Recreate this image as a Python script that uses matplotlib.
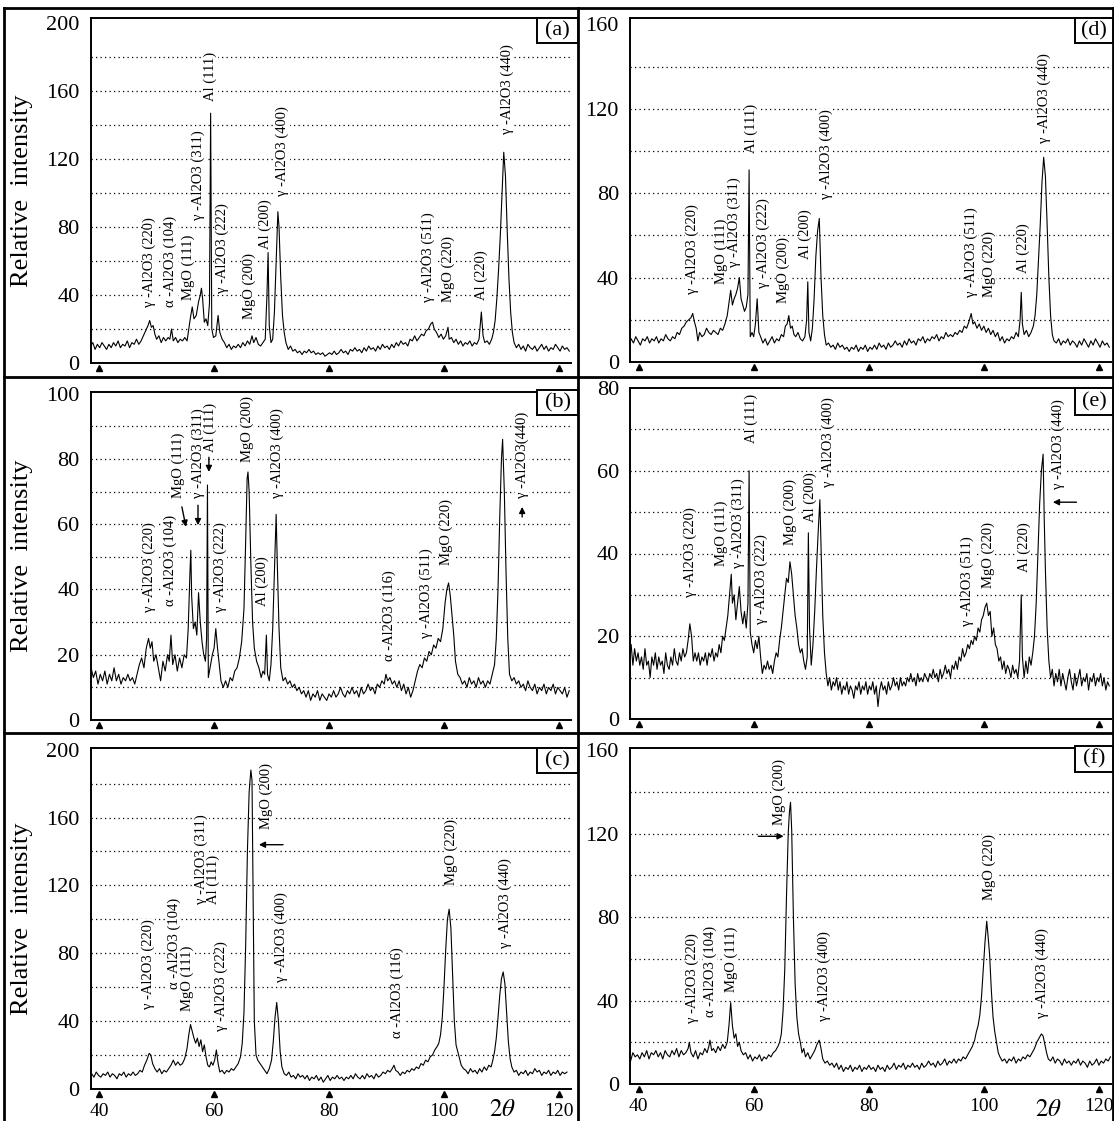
import matplotlib.pyplot as plt
from matplotlib.lines import Line2D
from matplotlib.patches import Rectangle

plt.rcParams['font.family'] = ['Liberation Serif', 'DejaVu Serif']
plt.rcParams['mathtext.fontset'] = 'stix'

# ---------------------------------------------------------------
# XRD patterns: (2theta, relative intensity)
# ---------------------------------------------------------------
pattern_a = [
    (38.5, 10), (38.9, 12), (39.3, 8), (39.7, 11), (40.1, 9), (40.5, 12), (40.9, 10), (41.3, 8), (41.7, 11),
    (42.1, 9), (42.5, 12), (42.9, 10), (43.3, 13), (43.7, 9), (44.1, 11), (44.5, 10), (44.9, 13), (45.3, 9),
    (45.7, 12), (46.1, 11), (46.5, 14), (46.9, 11), (47.3, 13), (47.7, 16), (48.1, 19), (48.5, 22), (48.8, 25),
    (49.1, 21), (49.4, 22), (49.7, 17), (50.0, 14), (50.4, 16), (50.8, 12), (51.2, 15), (51.6, 13), (52.0, 15),
    (52.3, 14), (52.6, 20), (52.9, 13), (53.3, 15), (53.7, 12), (54.1, 14), (54.5, 13), (54.9, 15), (55.3, 13),
    (55.6, 20), (55.9, 27), (56.2, 33), (56.5, 26), (56.9, 28), (57.3, 36), (57.6, 40), (57.8, 44), (58.0, 38),
    (58.3, 24), (58.6, 26), (58.9, 22), (59.2, 35), (59.4, 147), (59.6, 20), (59.9, 15), (60.3, 16), (60.7, 28),
    (61.0, 18), (61.4, 14), (61.8, 12), (62.2, 9), (62.6, 11), (63.0, 8), (63.4, 10), (63.8, 9), (64.2, 11),
    (64.6, 9), (65.0, 12), (65.4, 10), (65.8, 13), (66.2, 11), (66.6, 16), (66.9, 12), (67.3, 15), (67.7, 11),
    (68.1, 10), (68.5, 12), (68.9, 14), (69.2, 40), (69.4, 65), (69.6, 22), (69.9, 12), (70.2, 14), (70.5, 30),
    (70.8, 60), (71.1, 89), (71.3, 80), (71.6, 50), (71.9, 28), (72.2, 18), (72.5, 12), (72.9, 8), (73.3, 10),
    (73.7, 7), (74.1, 8), (74.5, 6), (74.9, 7), (75.3, 5), (75.7, 7), (76.1, 6), (76.5, 8), (76.9, 6), (77.3, 7),
    (77.7, 5), (78.1, 6), (78.5, 5), (78.9, 6), (79.3, 4), (79.7, 5), (80.1, 6), (80.5, 5), (80.9, 7), (81.3, 5),
    (81.7, 6), (82.1, 8), (82.5, 6), (82.9, 7), (83.3, 5), (83.7, 8), (84.1, 7), (84.5, 9), (84.9, 7), (85.3, 8),
    (85.7, 6), (86.1, 9), (86.5, 7), (86.9, 10), (87.3, 8), (87.7, 9), (88.1, 7), (88.5, 10), (88.9, 8),
    (89.3, 11), (89.7, 9), (90.1, 10), (90.5, 8), (90.9, 11), (91.3, 9), (91.7, 12), (92.1, 10), (92.5, 13),
    (92.9, 11), (93.3, 12), (93.7, 10), (94.1, 14), (94.5, 13), (94.9, 16), (95.3, 13), (95.7, 15), (96.1, 17),
    (96.5, 16), (96.9, 19), (97.3, 20), (97.7, 23), (98.0, 24), (98.3, 20), (98.7, 18), (99.1, 15), (99.5, 17),
    (99.9, 14), (100.3, 16), (100.7, 21), (100.9, 14), (101.3, 15), (101.7, 12), (102.1, 14), (102.5, 11),
    (102.9, 13), (103.3, 10), (103.7, 12), (104.1, 11), (104.5, 13), (104.9, 10), (105.3, 12), (105.7, 11),
    (106.1, 14), (106.5, 30), (106.8, 16), (107.1, 12), (107.5, 13), (107.9, 11), (108.3, 14), (108.6, 18),
    (108.9, 25), (109.2, 38), (109.5, 55), (109.8, 75), (110.1, 100), (110.4, 124), (110.7, 110), (111.0, 78),
    (111.3, 50), (111.6, 30), (111.9, 18), (112.2, 12), (112.6, 9), (113.0, 11), (113.4, 8), (113.8, 10),
    (114.2, 7), (114.6, 11), (115.0, 9), (115.4, 8), (115.8, 10), (116.2, 7), (116.6, 9), (117.0, 11),
    (117.4, 8), (117.8, 10), (118.2, 7), (118.6, 9), (119.0, 8), (119.4, 11), (119.8, 9), (120.2, 7),
    (120.6, 10), (121.0, 8), (121.4, 9), (121.8, 7),
]

pattern_b = [
    (38.6, 16), (39.0, 13), (39.4, 15), (39.8, 11), (40.2, 14), (40.6, 12), (41.0, 15), (41.4, 11), (41.8, 14),
    (42.2, 12), (42.6, 16), (43.0, 12), (43.4, 14), (43.8, 11), (44.2, 13), (44.6, 12), (45.0, 14), (45.4, 12),
    (45.8, 13), (46.2, 11), (46.6, 14), (47.0, 17), (47.4, 19), (47.8, 16), (48.2, 22), (48.6, 25), (48.9, 22),
    (49.2, 24), (49.5, 18), (49.9, 20), (50.3, 16), (50.7, 12), (51.1, 18), (51.5, 15), (51.9, 20), (52.2, 18),
    (52.5, 26), (52.8, 17), (53.2, 20), (53.6, 15), (54.0, 19), (54.4, 16), (54.8, 20), (55.2, 19), (55.5, 28),
    (55.8, 45), (55.95, 52), (56.1, 38), (56.4, 28), (56.7, 30), (57.0, 26), (57.3, 39), (57.6, 30), (57.9, 24),
    (58.2, 20), (58.5, 18), (58.7, 25), (58.85, 72), (59.0, 13), (59.3, 16), (59.7, 20), (60.0, 22), (60.3, 28),
    (60.6, 22), (60.9, 17), (61.2, 12), (61.6, 10), (62.0, 12), (62.4, 10), (62.8, 13), (63.2, 12), (63.6, 15),
    (64.0, 16), (64.4, 19), (64.8, 24), (65.2, 34), (65.5, 55), (65.75, 74), (65.9, 76), (66.1, 70), (66.4, 48),
    (66.7, 30), (67.0, 22), (67.4, 18), (67.8, 16), (68.2, 13), (68.5, 15), (68.8, 14), (69.1, 26), (69.3, 14),
    (69.6, 12), (69.9, 17), (70.2, 28), (70.5, 45), (70.8, 63), (71.0, 48), (71.3, 28), (71.6, 16), (72.0, 12),
    (72.4, 13), (72.8, 11), (73.2, 12), (73.6, 10), (74.0, 11), (74.4, 9), (74.8, 10), (75.2, 8), (75.6, 9),
    (76.0, 7), (76.4, 9), (76.8, 6), (77.2, 8), (77.6, 7), (78.0, 9), (78.4, 6), (78.8, 8), (79.2, 7), (79.6, 6),
    (80.0, 8), (80.4, 7), (80.8, 9), (81.2, 7), (81.6, 8), (82.0, 10), (82.4, 8), (82.8, 7), (83.2, 9), (83.6, 8),
    (84.0, 10), (84.4, 8), (84.8, 9), (85.2, 7), (85.6, 10), (86.0, 8), (86.4, 9), (86.8, 11), (87.2, 9),
    (87.6, 10), (88.0, 8), (88.4, 11), (88.8, 10), (89.2, 12), (89.6, 11), (89.9, 14), (90.2, 12), (90.6, 13),
    (91.0, 11), (91.4, 12), (91.8, 10), (92.2, 12), (92.6, 9), (93.0, 11), (93.4, 8), (93.8, 10), (94.2, 7),
    (94.6, 9), (95.0, 12), (95.4, 15), (95.8, 17), (96.2, 16), (96.6, 19), (97.0, 18), (97.4, 21), (97.8, 20),
    (98.2, 23), (98.6, 22), (99.0, 25), (99.4, 24), (99.8, 28), (100.2, 36), (100.5, 40), (100.8, 42),
    (101.1, 38), (101.4, 32), (101.7, 26), (102.0, 18), (102.4, 14), (102.8, 13), (103.2, 11), (103.6, 12),
    (104.0, 10), (104.4, 13), (104.8, 11), (105.2, 12), (105.6, 10), (106.0, 13), (106.4, 11), (106.8, 12),
    (107.2, 10), (107.6, 12), (108.0, 11), (108.4, 14), (108.8, 17), (109.1, 25), (109.4, 40), (109.7, 62),
    (110.0, 80), (110.2, 86), (110.5, 70), (110.8, 45), (111.1, 25), (111.4, 14), (111.8, 12), (112.2, 13),
    (112.6, 11), (113.0, 12), (113.4, 10), (113.8, 11), (114.2, 9), (114.6, 12), (115.0, 10), (115.4, 9),
    (115.8, 11), (116.2, 8), (116.6, 10), (117.0, 9), (117.4, 11), (117.8, 8), (118.2, 10), (118.6, 9),
    (119.0, 11), (119.4, 8), (119.8, 10), (120.2, 9), (120.6, 8), (121.0, 10), (121.4, 7), (121.8, 9),
]

pattern_c = [
    (38.3, 6), (38.7, 9), (39.1, 7), (39.5, 10), (39.9, 8), (40.3, 7), (40.7, 9), (41.1, 8), (41.5, 10),
    (41.9, 7), (42.3, 9), (42.7, 8), (43.1, 6), (43.5, 9), (43.9, 8), (44.3, 10), (44.7, 7), (45.1, 9), (45.5, 8),
    (45.9, 10), (46.3, 8), (46.7, 9), (47.1, 11), (47.5, 10), (47.9, 14), (48.3, 17), (48.7, 21), (49.0, 20),
    (49.3, 15), (49.7, 12), (50.1, 10), (50.5, 12), (50.9, 9), (51.3, 11), (51.7, 10), (52.1, 12), (52.5, 14),
    (52.9, 17), (53.3, 14), (53.7, 16), (54.1, 14), (54.5, 15), (54.9, 18), (55.3, 24), (55.6, 32), (55.9, 38),
    (56.2, 34), (56.5, 30), (56.8, 27), (57.1, 30), (57.4, 25), (57.7, 29), (58.0, 22), (58.3, 26), (58.6, 19),
    (58.9, 14), (59.2, 13), (59.5, 16), (59.8, 14), (60.1, 17), (60.4, 23), (60.7, 15), (61.0, 10), (61.4, 11),
    (61.8, 9), (62.2, 11), (62.6, 10), (63.0, 12), (63.4, 11), (63.8, 13), (64.2, 15), (64.6, 19), (64.9, 27),
    (65.2, 45), (65.5, 85), (65.8, 140), (66.1, 175), (66.4, 188), (66.6, 182), (66.8, 110), (67.0, 40),
    (67.3, 20), (67.6, 17), (68.0, 15), (68.4, 13), (68.8, 11), (69.2, 9), (69.6, 12), (70.0, 17), (70.3, 28),
    (70.6, 42), (70.9, 51), (71.2, 40), (71.5, 22), (71.8, 13), (72.2, 9), (72.6, 8), (73.0, 10), (73.4, 7),
    (73.8, 8), (74.2, 6), (74.6, 9), (75.0, 7), (75.4, 8), (75.8, 6), (76.2, 8), (76.6, 5), (77.0, 7), (77.4, 6),
    (77.8, 8), (78.2, 5), (78.6, 7), (79.0, 4), (79.4, 6), (79.8, 8), (80.2, 5), (80.6, 7), (81.0, 6), (81.4, 8),
    (81.8, 6), (82.2, 7), (82.6, 5), (83.0, 7), (83.4, 6), (83.8, 8), (84.2, 6), (84.6, 9), (85.0, 7), (85.4, 6),
    (85.8, 8), (86.2, 6), (86.6, 9), (87.0, 7), (87.4, 8), (87.8, 6), (88.2, 9), (88.6, 7), (89.0, 8), (89.4, 10),
    (89.8, 9), (90.2, 11), (90.6, 10), (91.0, 12), (91.3, 14), (91.6, 11), (92.0, 10), (92.4, 8), (92.8, 10),
    (93.2, 9), (93.6, 11), (94.0, 10), (94.4, 12), (94.8, 11), (95.2, 13), (95.6, 12), (96.0, 15), (96.4, 14),
    (96.8, 17), (97.2, 16), (97.6, 19), (98.0, 20), (98.4, 23), (98.8, 25), (99.1, 27), (99.4, 32), (99.7, 42),
    (100.0, 60), (100.3, 82), (100.6, 100), (100.9, 106), (101.2, 95), (101.5, 68), (101.8, 40), (102.1, 26),
    (102.4, 22), (102.7, 18), (103.0, 14), (103.4, 12), (103.8, 11), (104.2, 9), (104.6, 12), (105.0, 10),
    (105.4, 11), (105.8, 9), (106.2, 12), (106.6, 10), (107.0, 13), (107.4, 11), (107.8, 14), (108.2, 13),
    (108.5, 17), (108.8, 22), (109.1, 30), (109.4, 42), (109.7, 55), (110.0, 65), (110.3, 69), (110.6, 62),
    (110.9, 45), (111.2, 28), (111.5, 18), (111.8, 13), (112.2, 10), (112.6, 11), (113.0, 8), (113.4, 10),
    (113.8, 9), (114.2, 11), (114.6, 8), (115.0, 10), (115.4, 9), (115.8, 12), (116.2, 10), (116.6, 11),
    (117.0, 8), (117.4, 10), (117.8, 9), (118.2, 11), (118.6, 8), (119.0, 10), (119.4, 9), (119.8, 11),
    (120.2, 8), (120.6, 10), (121.0, 9), (121.4, 10),
]

pattern_d = [
    (38.3, 8), (38.7, 11), (39.1, 9), (39.5, 12), (39.9, 10), (40.3, 8), (40.7, 11), (41.1, 10), (41.5, 12),
    (41.9, 9), (42.3, 11), (42.7, 10), (43.1, 12), (43.5, 9), (43.9, 11), (44.3, 10), (44.7, 13), (45.1, 11),
    (45.5, 10), (45.9, 12), (46.3, 11), (46.7, 14), (47.1, 13), (47.5, 16), (47.9, 17), (48.3, 19), (48.7, 20),
    (49.1, 21), (49.4, 23), (49.7, 19), (50.0, 16), (50.3, 10), (50.6, 14), (51.0, 12), (51.4, 13), (51.8, 16),
    (52.2, 14), (52.6, 13), (53.0, 15), (53.4, 14), (53.8, 13), (54.2, 16), (54.6, 15), (55.0, 18), (55.4, 22),
    (55.7, 28), (56.0, 34), (56.3, 27), (56.6, 30), (56.9, 32), (57.2, 35), (57.5, 40), (57.8, 30), (58.1, 27),
    (58.4, 24), (58.7, 26), (59.0, 32), (59.2, 91), (59.4, 12), (59.7, 14), (60.0, 12), (60.3, 18), (60.6, 30),
    (60.9, 14), (61.2, 12), (61.6, 9), (62.0, 11), (62.4, 8), (62.8, 10), (63.2, 12), (63.6, 9), (64.0, 11),
    (64.4, 10), (64.8, 13), (65.2, 12), (65.5, 17), (65.8, 18), (66.1, 22), (66.4, 16), (66.7, 17), (67.0, 13),
    (67.3, 12), (67.7, 14), (68.1, 11), (68.5, 10), (68.9, 12), (69.2, 20), (69.4, 38), (69.6, 14), (69.9, 10),
    (70.2, 16), (70.5, 30), (70.8, 50), (71.1, 62), (71.4, 68), (71.7, 40), (72.0, 22), (72.3, 13), (72.6, 8),
    (73.0, 9), (73.4, 7), (73.8, 8), (74.2, 6), (74.6, 9), (75.0, 7), (75.4, 8), (75.8, 6), (76.2, 7), (76.6, 5),
    (77.0, 7), (77.4, 6), (77.8, 8), (78.2, 5), (78.6, 7), (79.0, 6), (79.4, 8), (79.8, 5), (80.2, 7), (80.6, 6),
    (81.0, 8), (81.4, 6), (81.8, 9), (82.2, 7), (82.6, 8), (83.0, 6), (83.4, 9), (83.8, 7), (84.2, 8), (84.6, 10),
    (85.0, 8), (85.4, 9), (85.8, 7), (86.2, 10), (86.6, 8), (87.0, 11), (87.4, 9), (87.8, 10), (88.2, 8),
    (88.6, 11), (89.0, 10), (89.4, 12), (89.8, 9), (90.2, 11), (90.6, 10), (91.0, 12), (91.4, 11), (91.8, 13),
    (92.2, 10), (92.6, 12), (93.0, 11), (93.4, 14), (93.8, 12), (94.2, 13), (94.6, 12), (95.0, 14), (95.4, 13),
    (95.8, 15), (96.2, 14), (96.6, 17), (97.0, 16), (97.4, 19), (97.8, 23), (98.1, 18), (98.4, 19), (98.8, 16),
    (99.2, 18), (99.6, 15), (100.0, 17), (100.4, 14), (100.8, 16), (101.2, 13), (101.6, 15), (102.0, 12),
    (102.4, 14), (102.8, 10), (103.2, 12), (103.6, 9), (104.0, 11), (104.4, 10), (104.8, 12), (105.2, 11),
    (105.6, 14), (106.0, 12), (106.3, 20), (106.5, 33), (106.7, 18), (107.0, 13), (107.4, 15), (107.8, 12),
    (108.2, 14), (108.6, 17), (108.9, 22), (109.2, 32), (109.5, 48), (109.8, 65), (110.1, 85), (110.4, 97),
    (110.7, 88), (111.0, 65), (111.3, 40), (111.6, 22), (111.9, 13), (112.2, 10), (112.6, 9), (113.0, 11),
    (113.4, 8), (113.8, 10), (114.2, 9), (114.6, 11), (115.0, 8), (115.4, 10), (115.8, 9), (116.2, 7),
    (116.6, 10), (117.0, 8), (117.4, 11), (117.8, 9), (118.2, 7), (118.6, 10), (119.0, 8), (119.4, 11),
    (119.8, 9), (120.2, 7), (120.6, 10), (121.0, 8), (121.4, 9), (121.8, 7),
]

pattern_e = [
    (38.4, 15), (38.7, 18), (39.0, 13), (39.3, 17), (39.6, 14), (39.9, 16), (40.2, 13), (40.5, 15), (40.8, 12),
    (41.1, 17), (41.4, 13), (41.7, 14), (42.0, 10), (42.3, 15), (42.6, 13), (42.9, 16), (43.2, 12), (43.5, 15),
    (43.8, 13), (44.1, 14), (44.4, 11), (44.7, 16), (45.0, 13), (45.3, 12), (45.6, 15), (45.9, 13), (46.2, 17),
    (46.5, 14), (46.8, 13), (47.1, 16), (47.4, 14), (47.7, 17), (48.0, 15), (48.3, 16), (48.6, 19), (48.9, 23),
    (49.2, 20), (49.5, 14), (49.8, 16), (50.1, 14), (50.4, 16), (50.7, 13), (51.0, 15), (51.3, 14), (51.6, 16),
    (51.9, 13), (52.2, 16), (52.5, 15), (52.8, 17), (53.1, 14), (53.4, 16), (53.7, 15), (54.0, 18), (54.3, 16),
    (54.6, 20), (54.9, 19), (55.2, 22), (55.5, 25), (55.8, 30), (56.1, 35), (56.3, 28), (56.6, 30), (56.9, 24),
    (57.2, 28), (57.5, 32), (57.8, 26), (58.1, 23), (58.4, 26), (58.7, 22), (59.0, 28), (59.2, 60), (59.4, 21),
    (59.7, 18), (60.0, 16), (60.3, 19), (60.6, 17), (60.9, 20), (61.2, 15), (61.5, 11), (61.8, 13), (62.1, 12),
    (62.4, 14), (62.7, 12), (63.0, 13), (63.3, 11), (63.6, 14), (63.9, 16), (64.2, 15), (64.5, 19), (64.8, 22),
    (65.1, 26), (65.4, 30), (65.7, 34), (66.0, 33), (66.3, 38), (66.6, 35), (66.9, 30), (67.2, 25), (67.5, 22),
    (67.8, 18), (68.1, 16), (68.4, 17), (68.7, 14), (69.0, 12), (69.3, 15), (69.5, 45), (69.7, 22), (70.0, 13),
    (70.3, 18), (70.6, 26), (70.9, 36), (71.2, 45), (71.5, 53), (71.7, 42), (72.0, 25), (72.3, 16), (72.6, 11),
    (72.9, 8), (73.2, 10), (73.5, 7), (73.8, 9), (74.1, 8), (74.4, 10), (74.7, 7), (75.0, 9), (75.3, 6), (75.6, 8),
    (75.9, 7), (76.2, 9), (76.5, 6), (76.8, 8), (77.1, 7), (77.4, 5), (77.7, 8), (78.0, 7), (78.3, 9), (78.6, 6),
    (78.9, 8), (79.2, 7), (79.5, 9), (79.8, 6), (80.1, 8), (80.4, 7), (80.7, 9), (81.0, 6), (81.3, 8), (81.6, 3),
    (81.9, 7), (82.2, 9), (82.5, 7), (82.8, 8), (83.1, 6), (83.4, 9), (83.7, 7), (84.0, 8), (84.3, 10), (84.6, 8),
    (84.9, 9), (85.2, 7), (85.5, 10), (85.8, 8), (86.1, 9), (86.4, 8), (86.7, 10), (87.0, 9), (87.3, 11),
    (87.6, 9), (87.9, 10), (88.2, 8), (88.5, 11), (88.8, 9), (89.1, 10), (89.4, 9), (89.7, 11), (90.0, 10),
    (90.3, 9), (90.6, 11), (90.9, 10), (91.2, 12), (91.5, 10), (91.8, 11), (92.1, 9), (92.4, 12), (92.7, 10),
    (93.0, 11), (93.3, 13), (93.6, 11), (93.9, 12), (94.2, 10), (94.5, 13), (94.8, 12), (95.1, 14), (95.4, 12),
    (95.7, 15), (96.0, 14), (96.3, 17), (96.6, 15), (96.9, 16), (97.2, 18), (97.5, 17), (97.8, 19), (98.1, 18),
    (98.4, 20), (98.7, 19), (99.0, 22), (99.3, 21), (99.6, 24), (99.9, 25), (100.2, 27), (100.5, 28),
    (100.8, 25), (101.1, 26), (101.4, 20), (101.7, 22), (102.0, 18), (102.3, 17), (102.6, 14), (102.9, 15),
    (103.2, 12), (103.5, 14), (103.8, 11), (104.1, 13), (104.4, 12), (104.7, 10), (105.0, 13), (105.3, 11),
    (105.6, 12), (105.9, 10), (106.2, 14), (106.5, 30), (106.7, 15), (107.0, 10), (107.3, 14), (107.6, 11),
    (107.9, 15), (108.2, 13), (108.5, 16), (108.8, 20), (109.1, 28), (109.4, 40), (109.7, 52), (110.0, 60),
    (110.3, 64), (110.5, 48), (110.7, 36), (111.0, 22), (111.3, 14), (111.6, 10), (111.9, 12), (112.2, 8),
    (112.5, 11), (112.8, 9), (113.1, 12), (113.4, 8), (113.7, 11), (114.0, 9), (114.3, 7), (114.6, 10),
    (114.9, 12), (115.2, 9), (115.5, 7), (115.8, 11), (116.1, 8), (116.4, 10), (116.7, 12), (117.0, 8),
    (117.3, 10), (117.6, 9), (117.9, 11), (118.2, 7), (118.5, 10), (118.8, 9), (119.1, 11), (119.4, 8),
    (119.7, 10), (120.0, 9), (120.3, 11), (120.6, 8), (120.9, 10), (121.2, 7), (121.5, 9), (121.8, 8),
]

pattern_f = [
    (38.2, 14), (38.6, 11), (39.0, 15), (39.4, 13), (39.8, 14), (40.2, 12), (40.6, 15), (41.0, 13), (41.4, 16),
    (41.8, 12), (42.2, 15), (42.6, 14), (43.0, 16), (43.4, 13), (43.8, 15), (44.2, 12), (44.6, 16), (45.0, 14),
    (45.4, 13), (45.8, 16), (46.2, 14), (46.6, 17), (47.0, 13), (47.4, 16), (47.8, 14), (48.2, 15), (48.6, 17),
    (48.8, 20), (49.1, 15), (49.5, 13), (49.9, 16), (50.3, 12), (50.7, 15), (51.1, 14), (51.5, 17), (51.9, 15),
    (52.2, 18), (52.4, 21), (52.7, 16), (53.0, 17), (53.4, 15), (53.8, 18), (54.2, 16), (54.6, 19), (55.0, 17),
    (55.4, 20), (55.7, 28), (56.0, 39), (56.3, 28), (56.6, 22), (56.9, 24), (57.2, 18), (57.5, 20), (57.8, 16),
    (58.2, 14), (58.6, 15), (59.0, 12), (59.4, 14), (59.8, 11), (60.2, 13), (60.6, 12), (61.0, 14), (61.4, 11),
    (61.8, 13), (62.2, 12), (62.6, 14), (63.0, 13), (63.4, 15), (63.8, 16), (64.2, 18), (64.5, 20), (64.8, 24),
    (65.1, 35), (65.4, 55), (65.7, 90), (66.0, 120), (66.2, 130), (66.4, 135), (66.6, 122), (66.9, 80),
    (67.2, 48), (67.5, 32), (67.8, 24), (68.1, 20), (68.4, 15), (68.7, 17), (69.0, 13), (69.4, 15), (69.8, 12),
    (70.2, 14), (70.6, 16), (71.0, 19), (71.4, 21), (71.7, 17), (72.0, 12), (72.4, 10), (72.8, 11), (73.2, 9),
    (73.6, 10), (74.0, 8), (74.4, 10), (74.8, 7), (75.2, 9), (75.6, 6), (76.0, 8), (76.4, 7), (76.8, 9), (77.2, 6),
    (77.6, 8), (78.0, 7), (78.4, 9), (78.8, 6), (79.2, 8), (79.6, 7), (80.0, 9), (80.4, 7), (80.8, 8), (81.2, 6),
    (81.6, 9), (82.0, 7), (82.4, 8), (82.8, 6), (83.2, 9), (83.6, 7), (84.0, 8), (84.4, 10), (84.8, 7), (85.2, 9),
    (85.6, 8), (86.0, 10), (86.4, 7), (86.8, 9), (87.2, 8), (87.6, 10), (88.0, 8), (88.4, 9), (88.8, 7),
    (89.2, 10), (89.6, 8), (90.0, 9), (90.4, 11), (90.8, 9), (91.2, 10), (91.6, 8), (92.0, 11), (92.4, 9),
    (92.8, 10), (93.2, 12), (93.6, 9), (94.0, 11), (94.4, 10), (94.8, 12), (95.2, 10), (95.6, 12), (96.0, 11),
    (96.4, 13), (96.8, 12), (97.2, 14), (97.6, 16), (98.0, 18), (98.4, 21), (98.7, 25), (99.0, 28), (99.3, 33),
    (99.6, 42), (99.9, 55), (100.2, 68), (100.5, 78), (100.7, 72), (101.0, 62), (101.3, 45), (101.6, 32),
    (101.9, 25), (102.2, 20), (102.5, 15), (102.8, 13), (103.2, 11), (103.6, 12), (104.0, 10), (104.4, 12),
    (104.8, 11), (105.2, 13), (105.6, 10), (106.0, 12), (106.4, 11), (106.8, 13), (107.2, 12), (107.6, 14),
    (108.0, 13), (108.4, 15), (108.8, 17), (109.2, 20), (109.6, 22), (110.0, 24), (110.3, 23), (110.6, 19),
    (110.9, 15), (111.2, 12), (111.6, 11), (112.0, 13), (112.4, 10), (112.8, 12), (113.2, 11), (113.6, 9),
    (114.0, 12), (114.4, 10), (114.8, 11), (115.2, 9), (115.6, 11), (116.0, 10), (116.4, 12), (116.8, 9),
    (117.2, 11), (117.6, 10), (118.0, 8), (118.4, 11), (118.8, 9), (119.2, 10), (119.6, 12), (120.0, 9),
    (120.4, 11), (120.8, 10), (121.2, 12), (121.6, 11), (122.0, 13),
]

# peak labels: (text, 2theta, intensity at bottom of the rotated text)
labels_a = [
    ("γ -Al2O3 (220)", 48.8, 33), ("α -Al2O3 (104)", 52.4, 33), ("MgO (111)", 55.5, 37),
    ("γ -Al2O3 (311)", 57.3, 84), ("Al (111)", 59.4, 154), ("γ -Al2O3 (222)", 61.5, 41),
    ("MgO (200)", 66.1, 26), ("Al (200)", 68.9, 67), ("γ -Al2O3 (400)", 71.9, 98),
    ("γ -Al2O3 (511)", 97.3, 36), ("MgO (220)", 100.8, 36), ("Al (220)", 106.5, 37),
    ("γ -Al2O3 (440)", 111.0, 135),
]
labels_b = [
    ("γ -Al2O3 (220)", 48.8, 33), ("α -Al2O3 (104)", 52.4, 35), ("MgO (111)", 53.8, 68),
    ("γ -Al2O3 (311)", 57.2, 68), ("Al (111)", 59.4, 82), ("γ -Al2O3 (222)", 61.0, 33),
    ("MgO (200)", 65.8, 79), ("Al (200)", 68.4, 35), ("γ -Al2O3 (400)", 71.0, 68),
    ("α -Al2O3 (116)", 90.5, 18), ("γ -Al2O3 (511)", 96.9, 25), ("MgO (220)", 100.4, 47.5),
    ("γ -Al2O3(440)", 113.6, 68),
]
labels_c = [
    ("γ -Al2O3 (220)", 48.5, 47), ("α -Al2O3 (104)", 53.0, 59), ("MgO (111)", 55.3, 46),
    ("γ -Al2O3 (311)", 57.8, 109), ("Al (111)", 59.8, 109), ("γ -Al2O3 (222)", 61.2, 34),
    ("MgO (200)", 69.0, 153), ("γ -Al2O3 (400)", 71.7, 63), ("α -Al2O3 (116)", 91.8, 30),
    ("MgO (220)", 101.3, 120), ("γ -Al2O3 (440)", 110.6, 83),
]
labels_d = [
    ("γ -Al2O3 (220)", 49.3, 32), ("MgO (111)", 54.4, 37), ("γ -Al2O3 (311)", 56.6, 45),
    ("Al (111)", 59.6, 99), ("γ -Al2O3 (222)", 61.6, 35), ("MgO (200)", 65.2, 28),
    ("Al (200)", 68.9, 49), ("γ -Al2O3 (400)", 72.6, 77), ("γ -Al2O3 (511)", 97.8, 31),
    ("MgO (220)", 100.9, 31), ("Al (220)", 106.8, 42), ("γ -Al2O3 (440)", 110.5, 104),
]
labels_e = [
    ("γ -Al2O3 (220)", 49.0, 29.6), ("MgO (111)", 54.3, 37), ("γ -Al2O3 (311)", 57.4, 36.4),
    ("Al (111)", 59.6, 66.8), ("γ -Al2O3 (222)", 61.4, 23), ("MgO (200)", 66.4, 42),
    ("Al (200)", 69.8, 47.6), ("γ -Al2O3 (400)", 72.9, 56), ("γ -Al2O3 (511)", 97.1, 22.4),
    ("MgO (220)", 100.7, 31.6), ("Al (220)", 107.0, 35.6), ("γ -Al2O3 (440)", 113.0, 55.6),
]
labels_f = [
    ("γ -Al2O3 (220)", 49.3, 29), ("α -Al2O3 (104)", 52.4, 32), ("MgO (111)", 56.1, 44),
    ("MgO (200)", 64.5, 124), ("γ -Al2O3 (400)", 72.3, 30), ("MgO (220)", 101.0, 88),
    ("γ -Al2O3 (440)", 110.2, 31.6),
]

# pointer arrows: (start 2theta, start intensity, end 2theta, end intensity)
arrows_b = [(54.4, 65.3, 55.1, 59.2), (57.2, 65.8, 57.2, 59.7), (59.1, 80.5, 59.1, 76.0), (113.6, 62.2, 113.6, 65.3)]
arrows_c = [(72.0, 144, 67.8, 144)]
arrows_e = [(116.1, 52.4, 112.0, 52.4)]
arrows_f = [(60.8, 118.7, 65.2, 118.7)]

x_ticks = [40, 60, 80, 100, 120]

# ---------------------------------------------------------------
# Page layout (pixel positions of the scanned page)
# ---------------------------------------------------------------
W, H = 1114, 1121
fig = plt.figure(figsize=(W / 100, H / 100), dpi=100)
fig.patch.set_facecolor('white')


def fx(px):
    return px / W


def fy(py):
    return 1 - py / H


panels = [
    # name, data, labels, arrows, (left, right, top, bottom px), ymax, label step, grid step, bottom row, box
    ('(a)', pattern_a, labels_a, [], (90.5, 571, 18, 363), 203, 40, 20, False, (537, 578, 18, 43)),
    ('(b)', pattern_b, labels_b, arrows_b, (90.5, 571, 392, 720), 100.5, 20, 10, False, (537, 578, 390, 415)),
    ('(c)', pattern_c, labels_c, arrows_c, (90.5, 571, 748, 1089), 201, 40, 20, True, (537, 578, 748, 773)),
    ('(d)', pattern_d, labels_d, [], (630, 1111, 18, 362), 163, 40, 20, False, (1075, 1113, 18, 43)),
    ('(e)', pattern_e, labels_e, arrows_e, (630, 1111, 388, 719), 80, 20, 10, False, (1075, 1113, 388, 415)),
    ('(f)', pattern_f, labels_f, arrows_f, (630, 1111, 748, 1084), 161, 40, 20, True, (1075, 1113, 746, 772)),
]

dotted = (0, (1, 2.6))

for name, pts, labs, arrs, (l, r, t, b), ymax, lstep, gstep, bottom_row, box in panels:
    ax = fig.add_axes([fx(l), fy(b), (r - l) / W, (b - t) / H])
    tth = [p[0] for p in pts]
    inten = [p[1] for p in pts]
    ax.plot(tth, inten, color='black', lw=0.8, zorder=3)
    ax.set_xlim(38.5, 122.1)
    ax.set_ylim(0, ymax)

    # dotted horizontal grid
    gv = gstep
    while gv < ymax - 3:
        ax.axhline(gv, color='black', lw=0.9, ls=dotted, zorder=0)
        gv += gstep

    yt = list(range(0, int(ymax) + 1, lstep))
    ax.set_yticks(yt)
    ax.set_yticklabels([str(v) for v in yt], fontsize=16)
    ax.tick_params(axis='y', length=0, pad=8)

    ax.spines['right'].set_visible(False)
    for s in ['left', 'bottom', 'top']:
        ax.spines[s].set_linewidth(1.4)

    # up-pointing triangle markers under the axis
    tri_y = -5.0 / (b - t)
    ax.plot(x_ticks, [tri_y] * len(x_ticks), linestyle='none', marker='^', ms=5, color='black',
            transform=ax.get_xaxis_transform(), clip_on=False)

    if bottom_row:
        ax.set_xticks(x_ticks)
        ax.set_xticklabels([str(v) for v in x_ticks], fontsize=14)
        ax.tick_params(axis='x', length=0, pad=10)
    else:
        ax.set_xticks([])

    if l < 300:
        ax.set_ylabel('Relative  intensity', fontsize=19)
        ax.yaxis.set_label_coords((33 - l) / (r - l), 0.5)

    for txt, xx, yy in labs:
        ax.text(xx, yy, txt, rotation=90, ha='center', va='bottom', fontsize=10.5, zorder=2,
                bbox=dict(facecolor='white', edgecolor='none', pad=0.3))

    for x0, y0, x1, y1 in arrs:
        ax.annotate('', xy=(x1, y1), xytext=(x0, y0),
                    arrowprops=dict(arrowstyle='-|>', color='black', lw=1.0, mutation_scale=9,
                                    shrinkA=0, shrinkB=0))

    # framed panel letter
    bl, br, bt, bb = box
    fig.add_artist(Rectangle((fx(bl), fy(bb)), (br - bl) / W, (bb - bt) / H, transform=fig.transFigure,
                             facecolor='white', edgecolor='black', lw=1.4, zorder=5))
    fig.text(fx((bl + br) / 2), fy((bt + bb) / 2), name, ha='center', va='center', fontsize=16, zorder=6)

# 2-theta axis captions
fig.text(fx(502), fy(1110), r'$2\theta$', ha='center', va='center', fontsize=18)
fig.text(fx(1048), fy(1110), r'$2\theta$', ha='center', va='center', fontsize=18)

# page frame and dividers
frame_lines = [
    ((4, 4), (8, 1121)), ((578, 578), (8, 1121)), ((1113, 1113), (8, 1121)),
    ((4, 1113), (8, 8)), ((4, 1113), (377, 377)), ((4, 1113), (733, 733)),
]
for xs, ys in frame_lines:
    fig.add_artist(Line2D([fx(v) for v in xs], [fy(v) for v in ys], transform=fig.transFigure,
                          color='black', lw=2.0))

fig.savefig('out.png', dpi=100)
